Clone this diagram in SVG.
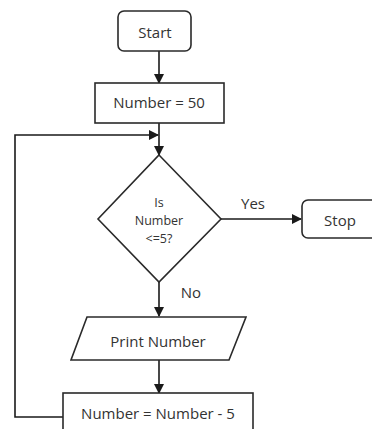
<svg xmlns="http://www.w3.org/2000/svg" width="372" height="429" viewBox="0 0 372 429">
<defs>
<marker id="arr" markerWidth="10" markerHeight="10" refX="9" refY="5" orient="auto" markerUnits="userSpaceOnUse">
<path d="M0,0 L10,5 L0,10 Z" fill="#1a1a1a"/>
</marker>
<style>
.shape{fill:#fff;stroke:#2a2a2a;stroke-width:1.6}
.conn{fill:none;stroke:#1a1a1a;stroke-width:1.6}
text{font-family:"Open Sans","Liberation Sans",sans-serif;font-size:15px;fill:#333;text-anchor:middle;dominant-baseline:central}
.small{font-size:12.5px}
</style>
</defs>
<rect width="372" height="429" fill="#fff"/>
<g id="connectors">
<line class="conn" x1="159" y1="51" x2="159" y2="83" marker-end="url(#arr)"/>
<line class="conn" x1="159" y1="123" x2="159" y2="155" marker-end="url(#arr)"/>
<polyline class="conn" points="63,417 15,417 15,135 158,135" marker-end="url(#arr)"/>
<line class="conn" x1="221" y1="219" x2="301" y2="219" marker-end="url(#arr)"/>
<line class="conn" x1="159" y1="282" x2="159" y2="316" marker-end="url(#arr)"/>
<line class="conn" x1="159" y1="360" x2="159" y2="393" marker-end="url(#arr)"/>
<text x="253" y="203">Yes</text>
<text x="191" y="292">No</text>
</g>
<g id="start">
<rect class="shape" x="118" y="11" width="73" height="40" rx="6"/>
<text x="155" y="32">Start</text>
</g>
<g id="init">
<rect class="shape" x="95" y="83" width="129" height="40"/>
<text x="159" y="102">Number = 50</text>
</g>
<g id="decision">
<polygon class="shape" points="159,155 221,219 159,282 98,219"/>
<text class="small" x="159" y="202">Is</text>
<text class="small" x="159" y="220">Number</text>
<text class="small" x="159" y="238">&lt;=5?</text>
</g>
<g id="stop">
<rect class="shape" x="302" y="200" width="80" height="38" rx="6"/>
<text x="340" y="220">Stop</text>
</g>
<g id="print">
<polygon class="shape" points="87,317 246,317 229,360 71,360"/>
<text x="158" y="341">Print Number</text>
</g>
<g id="decrement">
<rect class="shape" x="63" y="393" width="190" height="45"/>
<text x="158" y="413">Number = Number - 5</text>
</g>
</svg>
